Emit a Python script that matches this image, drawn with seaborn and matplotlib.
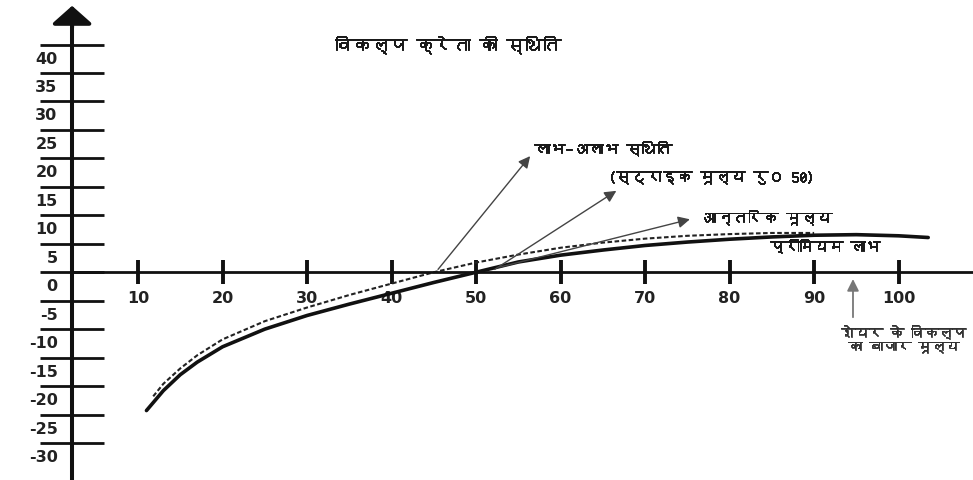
import numpy as np
import pandas as pd
import seaborn as sns
import matplotlib.pyplot as plt
import matplotlib.patheffects as pe
from matplotlib import font_manager
from matplotlib.ft2font import FT2Font
from matplotlib.transforms import ScaledTranslation

# curve values
solid_x = [11, 13, 15, 17, 20, 25, 30, 35, 40, 45, 50, 55, 60, 65, 70, 75, 80, 85, 90, 95, 100, 103.5]
solid_y = [-24.3, -20.8, -18.0, -15.8, -13.1, -10.0, -7.6, -5.6, -3.7, -1.8, 0, 1.8, 3.0, 3.9, 4.7, 5.3, 5.8, 6.2, 6.5, 6.6, 6.4, 6.1]
dashed_x = [11.8, 13, 15, 17, 20, 25, 30, 35, 40, 45, 50, 55, 60, 65, 70, 75, 80, 85, 90]
dashed_y = [-21.8, -19.6, -16.9, -14.6, -11.8, -8.6, -6.2, -4.0, -2.0, 0.0, 1.7, 3.1, 4.3, 5.2, 5.9, 6.4, 6.7, 6.9, 6.9]

x_ticks = [10, 20, 30, 40, 50, 60, 70, 80, 90, 100]
y_ticks = [40, 35, 30, 25, 20, 15, 10, 5, 0, -5, -10, -15, -20, -25, -30]

title = 'विकल्प क्रेता की स्थिति'
ann_breakeven = 'लाभ–अलाभ स्थिति'
ann_strike = '(स्ट्राइक मूल्य रु० 50)'
ann_intrinsic = 'आन्तरिक मूल्य'
lbl_premium = 'प्रीमियम लाभ'
lbl_market = 'शेयर के विकल्प\nका बाजार मूल्य'


# look for any installed font that has devanagari glyphs
def find_deva():
    for f in font_manager.fontManager.ttflist:
        try:
            if 0x0915 in FT2Font(f.fname).get_charmap():
                return f.name
        except Exception:
            pass
    return None


sns.set_style('white')
deva = find_deva()
hindi = [deva, 'DejaVu Sans'] if deva else ['Noto Sans', 'DejaVu Sans']
plt.rcParams['font.family'] = ['DejaVu Sans']

fig = plt.figure(figsize=(9.73, 4.81), dpi=100)
ax = fig.add_axes([0, 0, 1, 1])

solid = pd.DataFrame({'x': solid_x, 'y': solid_y})
dashed = pd.DataFrame({'x': dashed_x, 'y': dashed_y})
sns.lineplot(data=dashed, x='x', y='y', ax=ax, color='#222222', lw=1.5, linestyle=(0, (2.2, 1.2)))
sns.lineplot(data=solid, x='x', y='y', ax=ax, color='#111111', lw=2.6)

ax.set_xlim(-6.33, 108.8)
ax.set_ylim(-36.5, 48.0)
ax.set_xlabel('')
ax.set_ylabel('')

# axes cross: y axis sits a little right of x=0
ax.spines['top'].set_visible(False)
ax.spines['right'].set_visible(False)
ax.spines['left'].set_position(('data', 2.2))
ax.spines['bottom'].set_position(('data', 0))
ax.spines['left'].set_linewidth(2.9)
ax.spines['bottom'].set_linewidth(2.0)
ax.spines['left'].set_color('#111111')
ax.spines['bottom'].set_color('#111111')
ax.spines['bottom'].set_bounds(2.2, 108.8)
ax.spines['left'].set_bounds(-36.5, 45.0)
ax.annotate('', xy=(2.2, 46.8), xytext=(2.2, 43.0),
            arrowprops=dict(arrowstyle='-|>,head_length=0.55,head_width=0.62', mutation_scale=20,
                            color='#111111', lw=2.9, shrinkA=0, shrinkB=0))

ax.set_xticks(x_ticks)
ax.set_xticklabels([str(v) for v in x_ticks], fontweight='bold', fontsize=11.5, color='#222222')
ax.set_yticks(y_ticks)
ax.set_yticklabels([str(v) for v in y_ticks], fontweight='bold', fontsize=11.5, color='#222222')
ax.tick_params(axis='x', bottom=True, direction='inout', length=17, width=2.8, color='#111111', pad=4)
ax.tick_params(axis='y', left=True, direction='inout', length=46, width=2.0, color='#111111', pad=-14)

# y labels sit below their tick lines
shift = ScaledTranslation(-2 / 100, -12 / 100, fig.dpi_scale_trans)
for lab in ax.get_yticklabels():
    lab.set_transform(lab.get_transform() + shift)
    lab.set_horizontalalignment('right')

arrow_kw = dict(arrowstyle='-|>,head_length=0.5,head_width=0.25', mutation_scale=14,
                color='#444444', lw=1.0, shrinkA=0, shrinkB=0)
heavy = [pe.withStroke(linewidth=0.7, foreground='#1a1a1a')]

ax.text(33.3, 40.1, title, family=hindi, fontsize=13, color='#1a1a1a', ha='left', va='center',
        path_effects=heavy)

ax.annotate('', xy=(56.4, 20.4), xytext=(45.5, 0.5), arrowprops=arrow_kw)
ax.text(56.9, 21.8, ann_breakeven, family=hindi, fontsize=11, color='#1a1a1a', ha='left', va='center',
        path_effects=heavy)

ax.annotate('', xy=(66.6, 14.3), xytext=(52.2, 0.5), arrowprops=arrow_kw)
ax.text(65.6, 16.7, ann_strike, family=hindi, fontsize=11, color='#1a1a1a', ha='left', va='center',
        path_effects=heavy)

ax.annotate('', xy=(75.3, 9.3), xytext=(52.8, 0.9), arrowprops=arrow_kw)
ax.text(76.7, 9.7, ann_intrinsic, family=hindi, fontsize=11, color='#1a1a1a', ha='left', va='center',
        path_effects=heavy)

ax.text(84.8, 4.6, lbl_premium, family=hindi, fontsize=10.5, color='#1a1a1a', ha='left', va='center',
        path_effects=heavy)

ax.annotate('', xy=(94.6, -1.2), xytext=(94.6, -7.9),
            arrowprops=dict(arrowstyle='-|>,head_length=0.5,head_width=0.25', mutation_scale=14,
                            color='#777777', lw=1.3, shrinkA=0, shrinkB=0))
ax.text(100.6, -11.7, lbl_market, family=hindi, fontsize=10, color='#333333',
        ha='center', va='center', linespacing=1.15,
        path_effects=[pe.withStroke(linewidth=0.5, foreground='#333333')])

fig.savefig('out.png', dpi=100)
